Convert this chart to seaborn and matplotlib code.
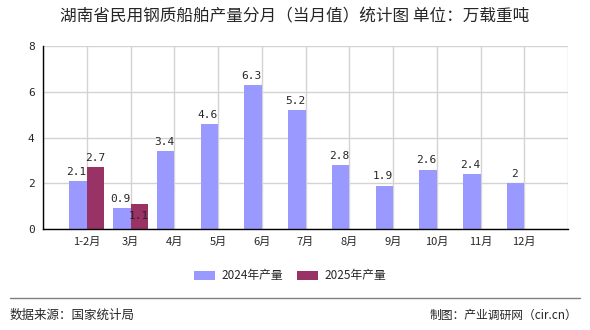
import matplotlib
matplotlib.use("Agg")
import matplotlib.pyplot as plt
import seaborn as sns
import pandas as pd
import numpy as np
from matplotlib.patches import Patch
from matplotlib.lines import Line2D

months = ["1-2月", "3月", "4月", "5月", "6月", "7月", "8月", "9月", "10月", "11月", "12月"]
v2024 = [2.1, 0.9, 3.4, 4.6, 6.3, 5.2, 2.8, 1.9, 2.6, 2.4, 2]
v2025 = [2.7, 1.1, None, None, None, None, None, None, None, None, None]
series = ["2024年产量", "2025年产量"]
colors = ["#9999FF", "#993366"]
title = "湖南省民用钢质船舶产量分月（当月值）统计图 单位：万载重吨"
source = "数据来源：国家统计局"
credit = "制图：产业调研网（cir.cn）"

rows = []
for m, a, b in zip(months, v2024, v2025):
    rows.append({"month": m, "series": series[0], "value": a})
    if b is not None:
        rows.append({"month": m, "series": series[1], "value": b})
df = pd.DataFrame(rows)

sns.set_style("white")
plt.rcParams["font.family"] = ["Noto Sans CJK SC", "DejaVu Sans"]

fig = plt.figure(figsize=(5.9, 3.3), dpi=100)
ax = fig.add_axes([43/590, 101/330, (568-43)/590, (229-46)/330])

sns.barplot(data=df, x="month", y="value", hue="series", order=months,
            hue_order=series, palette=colors, width=0.8, saturation=1,
            legend=False, ax=ax, zorder=2, linewidth=0, edgecolor="none")

ax.set_xlim(-1, len(months))
ax.set_ylim(0, 8)
ax.set_yticks([0, 2, 4, 6, 8])
ax.set_xticks([-1, len(months)], minor=True)
ax.grid(True, which="both", color="#d3d3d3", linewidth=1, zorder=0)
ax.set_axisbelow(True)
for s in ["top", "right"]:
    ax.spines[s].set_visible(False)
for s in ["left", "bottom"]:
    ax.spines[s].set_color("black")
    ax.spines[s].set_linewidth(1)
ax.tick_params(axis="both", which="both", direction="out", length=4, width=1,
               color="black", labelsize=8, pad=2)
ax.tick_params(axis="x", which="minor", labelbottom=False)
ax.set_xlabel("")
ax.set_ylabel("")
for lbl in ax.get_yticklabels():
    lbl.set_family(["DejaVu Sans Mono"])

# value labels
c24, c25 = ax.containers[0], ax.containers[1]
for i, bar in enumerate(c24):
    h = bar.get_height()
    x = bar.get_x() + bar.get_width() / 2
    ax.annotate(f"{v2024[i]:g}", (x, h), xytext=(-1, 3), textcoords="offset points",
                ha="center", va="bottom", fontsize=8, family=["DejaVu Sans Mono"])
vals25 = [v for v in v2025 if v is not None]
for i, bar in enumerate(c25):
    if i >= len(vals25):
        break
    h = bar.get_height()
    if np.isnan(h):
        continue
    x = bar.get_x() + bar.get_width() / 2
    close = abs(vals25[i] - v2024[i]) < 0.5
    off = -12 if close else 3
    ax.annotate(f"{vals25[i]:g}", (x, h), xytext=(0, off), textcoords="offset points",
                ha="center", va="bottom", fontsize=8, family=["DejaVu Sans Mono"])

fig.text(0.5, 1 - 17/330, title, ha="center", va="center", fontsize=12)

handles = [Patch(facecolor=c, edgecolor="none") for c in colors]
fig.legend(handles, series, loc="center", bbox_to_anchor=(290/590, 1 - 276/330),
           ncol=2, frameon=False, fontsize=8.5, handlelength=1.8, handleheight=0.9,
           columnspacing=1.2, handletextpad=0.5)

fig.add_artist(Line2D([10/590, 580/590], [1 - 298/330, 1 - 298/330],
                      color="#808080", linewidth=1))
fig.text(10/590, 1 - 315/330, source, ha="left", va="center", fontsize=9)
fig.text(577/590, 1 - 315/330, credit, ha="right", va="center", fontsize=8.5)

fig.savefig("out.png", dpi=100)
